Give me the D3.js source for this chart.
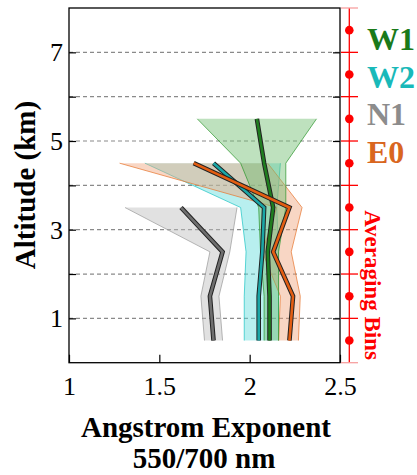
<!DOCTYPE html>
<html>
<head>
<meta charset="utf-8">
<script src="https://cdn.jsdelivr.net/npm/d3@7"></script>
<style>
  body { margin: 0; background: #fff; }
  text { font-family: "Liberation Serif", "Times New Roman", serif; }
</style>
</head>
<body>
<script>
// Altitude of each averaging bin centre (km)
const altitudes = [0.5, 1.5, 2.5, 3.5, 4.5, 5.5];

// Angstrom exponent per site: mean and band limits, bottom bin first
const w1Mean = [2.11, 2.11, 2.10, 2.13, 2.08, 2.04];
const w1Low  = [2.08, 2.08, 2.06, 2.05, 1.95, 1.71];
const w1High = [2.16, 2.16, 2.16, 2.20, 2.20, 2.37];

const w2Mean = [2.05, 2.05, 2.07, 2.08, 1.80];
const w2Low  = [1.97, 1.97, 1.98, 1.95, 1.42];
const w2High = [2.16, 2.16, 2.16, 2.15, 2.17];

const n1Mean = [1.80, 1.78, 1.85, 1.62];
const n1Low  = [1.75, 1.73, 1.78, 1.31];
const n1High = [1.85, 1.83, 1.89, 1.93];

const e0Mean = [2.22, 2.24, 2.13, 2.22, 1.69];
const e0Low  = [2.16, 2.17, 2.07, 2.15, 1.28];
const e0High = [2.27, 2.28, 2.23, 2.29, 2.10];

const xTicks = [1, 1.5, 2, 2.5];
const xTickLabels = ["1", "1.5", "2", "2.5"];
const yTicks = [1, 3, 5, 7];
const gridAlts = [1, 2, 3, 4, 5, 6, 7];
const binEdges = [0, 1, 2, 3, 4, 5, 6, 7, 8];
const binCentres = [0.5, 1.5, 2.5, 3.5, 4.5, 5.5, 6.5, 7.5];

const series = [
  { name: "N1", mean: n1Mean, lo: n1Low, hi: n1High, fill: "#bdbdbd", edge: "#9a9a9a", line: "#6e6e6e", text: "#8c8c8c" },
  { name: "W2", mean: w2Mean, lo: w2Low, hi: w2High, fill: "#62dcdc", edge: "#20c4c4", line: "#1aa6a6", text: "#19b9b9" },
  { name: "E0", mean: e0Mean, lo: e0Low, hi: e0High, fill: "#f0a47c", edge: "#e8762f", line: "#e35d12", text: "#d9661f" },
  { name: "W1", mean: w1Mean, lo: w1Low, hi: w1High, fill: "#6fbd6f", edge: "#2e962e", line: "#1f7d1f", text: "#1a7a1a" }
];
const legendOrder = ["W1", "W2", "N1", "E0"];

const width = 417, height = 475;
const svg = d3.select("body").append("svg")
  .attr("width", width)
  .attr("height", height);

const xScale = d3.scaleLinear().domain([1, 2.5]).range([69, 340]);
const yScale = d3.scaleLinear().domain([0, 8]).range([362.7, 8]);

// dashed grid lines
svg.append("g").selectAll("line")
  .data(gridAlts).enter().append("line")
  .attr("x1", xScale(1)).attr("x2", xScale(2.5))
  .attr("y1", d => yScale(d)).attr("y2", d => yScale(d))
  .attr("stroke", "#8a8a8a")
  .attr("stroke-width", 1.2)
  .attr("stroke-dasharray", "4,3");

// bands
const area = d3.area()
  .y(d => yScale(d.alt))
  .x0(d => xScale(d.lo))
  .x1(d => xScale(d.hi));
const edgeLine = key => d3.line().x(d => xScale(d[key])).y(d => yScale(d.alt));

series.forEach(s => {
  s.rows = s.mean.map((m, i) => ({ alt: altitudes[i], mean: m, lo: s.lo[i], hi: s.hi[i] }));
});

series.forEach(s => {
  svg.append("path").datum(s.rows)
    .attr("d", area)
    .attr("fill", s.fill)
    .attr("fill-opacity", 0.45);
  ["lo", "hi"].forEach(k => {
    svg.append("path").datum(s.rows)
      .attr("d", edgeLine(k))
      .attr("fill", "none")
      .attr("stroke", s.edge)
      .attr("stroke-width", 0.9)
      .attr("stroke-opacity", 0.8);
  });
});

// mean profiles, dark outline then colour
const meanLine = edgeLine("mean");
["N1", "W2", "W1", "E0"].forEach(n => {
  const s = series.find(d => d.name === n);
  svg.append("path").datum(s.rows)
    .attr("d", meanLine)
    .attr("fill", "none")
    .attr("stroke", "#222")
    .attr("stroke-width", 4.6)
    .attr("stroke-linejoin", "miter");
  svg.append("path").datum(s.rows)
    .attr("d", meanLine)
    .attr("fill", "none")
    .attr("stroke", s.line)
    .attr("stroke-width", 2.6)
    .attr("stroke-linejoin", "miter");
});

// frame
svg.append("rect")
  .attr("x", xScale(1)).attr("y", yScale(8))
  .attr("width", xScale(2.5) - xScale(1))
  .attr("height", yScale(0) - yScale(8))
  .attr("fill", "none")
  .attr("stroke", "#000")
  .attr("stroke-width", 1.3);

// axes with inward ticks
const xAxis = d3.axisBottom(xScale).tickValues(xTicks)
  .tickFormat((d, i) => xTickLabels[i]).tickSizeInner(-8).tickSizeOuter(0).tickPadding(14);
const gx = svg.append("g")
  .attr("transform", "translate(0," + yScale(0) + ")")
  .call(xAxis);
gx.select(".domain").remove();
gx.selectAll("line").attr("stroke", "#000").attr("stroke-width", 1.2);
gx.selectAll("text").attr("font-size", 26).attr("fill", "#000")
  .attr("font-family", "'Liberation Serif', serif");

const yAxis = d3.axisLeft(yScale).tickValues(gridAlts)
  .tickFormat(d => yTicks.includes(d) ? d : "").tickSizeInner(-7).tickSizeOuter(0).tickPadding(6);
const gy = svg.append("g")
  .attr("transform", "translate(" + xScale(1) + ",0)")
  .call(yAxis);
gy.select(".domain").remove();
gy.selectAll("line").attr("stroke", "#000").attr("stroke-width", 1.2);
gy.selectAll("text").attr("font-size", 26).attr("fill", "#000")
  .attr("font-family", "'Liberation Serif', serif");

const yAxisR = d3.axisRight(yScale).tickValues(gridAlts)
  .tickFormat("").tickSizeInner(-7).tickSizeOuter(0);
const gyr = svg.append("g")
  .attr("transform", "translate(" + xScale(2.5) + ",0)")
  .call(yAxisR);
gyr.select(".domain").remove();
gyr.selectAll("line").attr("stroke", "#000").attr("stroke-width", 1.2);

// averaging bins axis
const binX = 349.3;
svg.append("line")
  .attr("x1", binX).attr("x2", binX)
  .attr("y1", yScale(8)).attr("y2", yScale(0))
  .attr("stroke", "#f00").attr("stroke-width", 1.3);
svg.append("g").selectAll("line")
  .data(binEdges).enter().append("line")
  .attr("x1", 341).attr("x2", 358)
  .attr("y1", d => yScale(d)).attr("y2", d => yScale(d))
  .attr("stroke", d => (d === 0 || d === 8) ? "#f7a0a0" : "#f00")
  .attr("stroke-width", 1.3);
svg.append("g").selectAll("circle")
  .data(binCentres).enter().append("circle")
  .attr("cx", binX).attr("cy", d => yScale(d))
  .attr("r", 4.3)
  .attr("fill", "#f00");

svg.append("text")
  .attr("transform", "translate(365," + 285 + ") rotate(90)")
  .attr("text-anchor", "middle")
  .attr("font-size", 23)
  .attr("font-weight", "bold")
  .attr("fill", "#f00")
  .text("Averaging Bins");

// legend
legendOrder.forEach((n, i) => {
  const s = series.find(d => d.name === n);
  svg.append("text")
    .attr("x", 367).attr("y", 50 + i * 37.5)
    .attr("font-size", 32)
    .attr("font-weight", "bold")
    .attr("fill", s.text)
    .text(n);
});

// axis titles
svg.append("text")
  .attr("transform", "translate(35,185) rotate(-90)")
  .attr("text-anchor", "middle")
  .attr("font-size", 29)
  .attr("font-weight", "bold")
  .text("Altitude (km)");

svg.append("text")
  .attr("x", 206).attr("y", 437)
  .attr("text-anchor", "middle")
  .attr("font-size", 29)
  .attr("font-weight", "bold")
  .text("Angstrom Exponent");
svg.append("text")
  .attr("x", 204).attr("y", 468)
  .attr("text-anchor", "middle")
  .attr("font-size", 29)
  .attr("font-weight", "bold")
  .text("550/700 nm");
</script>
</body>
</html>
